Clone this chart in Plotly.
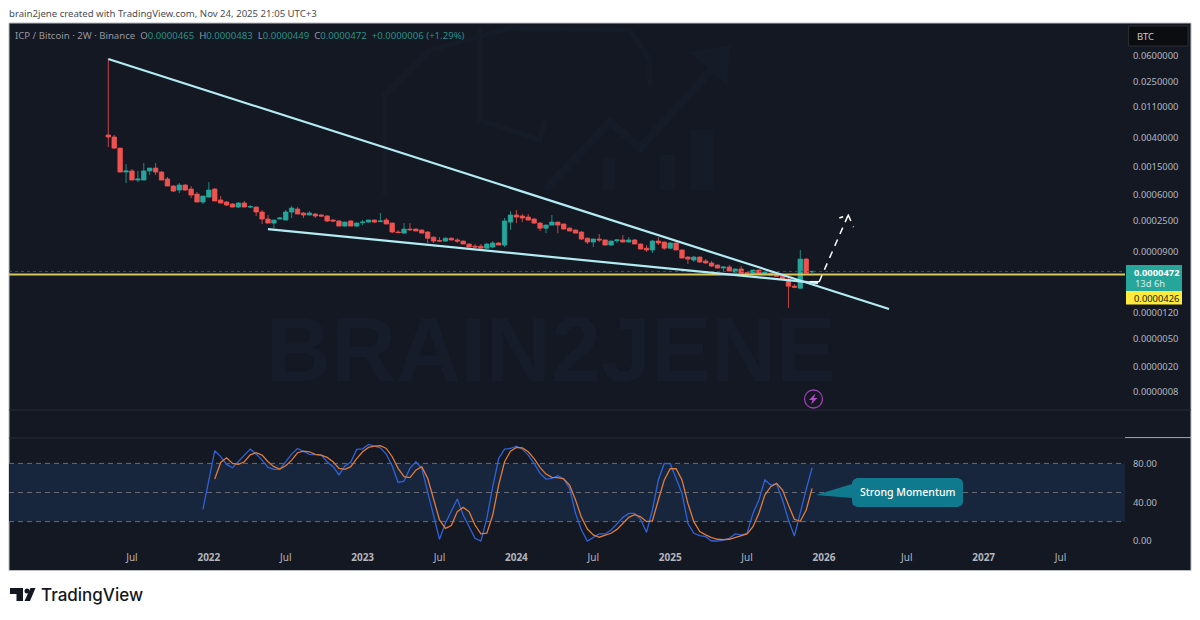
# ICP / Bitcoin 2W chart, TradingView look, with stoch RSI pane below
import plotly.graph_objects as go

# candles, prices in units of 1e-4 BTC, one row = 10 bars
opens_e4 = [
    43.4, 40.6, 28.1, 12.7, 13.2, 9.75, 9.75, 13.2, 14.5, 12.7,
    10.1, 7.99, 7.00, 8.26, 7.23, 6.12, 4.71, 5.54, 7.23, 5.03,
    4.71, 4.40, 3.98, 4.55, 3.98, 3.98, 3.38, 2.68, 2.34, 2.68,
    2.59, 3.38, 3.73, 3.27, 3.06, 3.16, 3.06, 2.96, 2.59, 2.51,
    2.12, 2.51, 2.12, 2.38, 2.42, 2.59, 2.46, 2.59, 2.34, 1.74,
    1.68, 1.92, 1.92, 1.86, 1.74, 1.47, 1.31, 1.29, 1.42, 1.34,
    1.29, 1.17, 1.09, 1.09, 1.02, 1.06, 1.21, 1.13, 2.42, 3.06,
    2.96, 2.86, 2.68, 2.34, 1.98, 2.19, 2.42, 2.27, 1.98, 1.86,
    1.74, 1.42, 1.25, 1.38, 1.34, 1.13, 1.31, 1.34, 1.25, 1.34,
    1.17, 1.02, 0.96, 1.29, 1.25, 1.02, 1.21, 0.96, 0.76, 0.689,
    0.76, 0.667, 0.624, 0.583, 0.528, 0.546, 0.462, 0.511, 0.452, 0.432,
    0.494, 0.432, 0.447, 0.418, 0.404, 0.366, 0.29, 0.271, 0.71, 0.465,
]
highs_e4 = [
    538, 43.4, 28.1, 16.5, 14.0, 13.2, 17.1, 14.5, 17.1, 13.2,
    10.8, 8.26, 8.82, 8.53, 7.99, 6.55, 5.73, 9.12, 7.47, 5.73,
    4.87, 4.55, 4.71, 4.87, 4.26, 4.05, 3.61, 3.06, 2.59, 2.86,
    3.61, 4.12, 3.98, 3.38, 3.49, 3.27, 3.16, 3.06, 2.68, 2.59,
    2.46, 2.59, 2.42, 2.59, 2.59, 2.63, 3.27, 2.77, 2.38, 1.86,
    2.34, 2.34, 1.95, 1.90, 1.80, 1.50, 1.47, 1.45, 1.45, 1.42,
    1.31, 1.19, 1.17, 1.17, 1.21, 1.29, 1.25, 2.77, 3.49, 3.61,
    3.16, 3.16, 2.77, 2.42, 2.23, 3.06, 2.46, 2.30, 2.05, 1.90,
    1.80, 1.45, 1.40, 1.63, 1.36, 1.31, 1.38, 1.57, 1.47, 1.38,
    1.19, 1.13, 1.34, 1.47, 1.27, 1.25, 1.23, 0.98, 0.78, 0.785,
    0.77, 0.71, 0.667, 0.593, 0.555, 0.583, 0.52, 0.564, 0.462, 0.50,
    0.50, 0.47, 0.452, 0.425, 0.41, 0.391, 0.31, 0.96, 0.735, 0.483,
]
lows_e4 = [
    29.1, 27.2, 12.7, 8.82, 9.75, 9.12, 9.75, 11.5, 11.5, 9.75,
    7.99, 6.55, 6.33, 6.77, 5.36, 4.71, 4.40, 5.54, 4.87, 4.55,
    4.12, 3.98, 3.85, 3.98, 3.85, 2.96, 2.27, 2.34, 1.98, 2.68,
    2.59, 2.77, 3.16, 2.77, 3.06, 2.77, 2.86, 2.42, 2.42, 2.12,
    2.08, 2.12, 2.05, 2.19, 2.38, 2.34, 2.42, 2.27, 1.68, 1.68,
    1.65, 1.80, 1.80, 1.68, 1.21, 1.21, 1.25, 1.27, 1.31, 1.21,
    1.17, 1.06, 1.02, 1.02, 1.00, 1.02, 1.13, 1.06, 1.86, 2.34,
    2.42, 2.55, 2.30, 1.80, 1.68, 2.19, 1.68, 1.92, 1.80, 1.68,
    1.34, 1.17, 1.06, 1.25, 1.13, 1.11, 1.21, 1.23, 1.23, 1.17,
    0.99, 0.90, 0.87, 1.13, 0.96, 1.00, 0.96, 0.735, 0.603, 0.645,
    0.624, 0.61, 0.546, 0.52, 0.478, 0.478, 0.455, 0.447, 0.432, 0.43,
    0.432, 0.428, 0.418, 0.40, 0.36, 0.141, 0.271, 0.265, 0.447, 0.449,
]
closes_e4 = [
    40.6, 28.1, 12.7, 13.2, 9.75, 10.1, 13.2, 14.5, 12.7, 9.75,
    7.99, 6.77, 8.26, 7.00, 5.93, 4.71, 5.73, 7.00, 4.87, 4.55,
    4.26, 3.98, 4.55, 3.98, 4.05, 3.38, 2.68, 2.34, 2.59, 2.77,
    3.38, 3.85, 3.16, 3.06, 3.27, 2.96, 2.96, 2.51, 2.51, 2.12,
    2.42, 2.12, 2.34, 2.42, 2.59, 2.42, 2.51, 2.27, 1.74, 1.71,
    1.92, 1.88, 1.80, 1.68, 1.42, 1.29, 1.29, 1.42, 1.34, 1.29,
    1.17, 1.06, 1.06, 1.02, 1.17, 1.21, 1.13, 2.51, 3.06, 2.86,
    2.77, 2.59, 2.34, 1.98, 2.19, 2.42, 2.19, 1.92, 1.80, 1.68,
    1.38, 1.25, 1.38, 1.34, 1.13, 1.29, 1.34, 1.25, 1.34, 1.17,
    0.99, 0.96, 1.29, 1.21, 1.02, 1.21, 0.96, 0.735, 0.71, 0.76,
    0.645, 0.624, 0.564, 0.528, 0.546, 0.478, 0.511, 0.447, 0.447, 0.494,
    0.432, 0.462, 0.418, 0.404, 0.366, 0.29, 0.28, 0.71, 0.447, 0.472,
]
bar_index = list(range(len(opens_e4)))

# stoch RSI, the %K line starts at bar 16 and the %D line at bar 18
k_start = 16
stoch_k = [
    32.7, 63, 93, 87, 79, 75.5, 81.7, 87.5, 94.7, 89.6,
    83.4, 75.9, 73.8, 73.8, 81.7, 89.6, 95.4, 92, 89.3, 89,
    88.6, 81.7, 76.6, 68.3, 77.3, 81.4, 94.4, 95, 99.6, 97.8,
    96, 89.6, 77.3, 60.4, 61.8, 74.9, 81.7, 74.9, 50.8, 25,
    1.8, 18.3, 30.3, 43.3, 26.8, 14.8, 2.8, 0, 23.4, 56,
    85, 94.7, 95.4, 97.8, 94.7, 88.6, 80, 69.7, 63.9, 64.6,
    67.3, 63.9, 54.3, 28.5, 11.4, 0, 3.9, 7.3, 7.3, 11.4,
    17.6, 24.4, 28.5, 28.5, 22.4, 9, 32, 62.9, 80, 79.7,
    64.6, 49, 18.3, 8, 5.6, 4.5, 0, 0, 1, 2.8,
    7.3, 6.3, 8, 28.5, 42.3, 62.9, 57.7, 58.7, 42.3, 21.7,
    5.2, 30.3, 53.2, 75.5,
]
d_start = 18
stoch_d = [
    63.9, 81, 85.8, 80, 79, 81.7, 88.9, 91, 88.6, 81.7,
    76.6, 74.2, 77.6, 83.4, 91, 92.7, 92, 89.3, 88.6, 86.2,
    81.7, 74.9, 73.8, 76.6, 85, 92, 96.5, 97.8, 98.2, 95.4,
    86.9, 74.9, 66.3, 65.3, 73, 76.6, 64.6, 42.3, 21.7, 13.1,
    15.9, 30.3, 34.7, 30.3, 16.5, 7.3, 8, 26.8, 57.7, 81.7,
    92.7, 96.5, 96, 92, 85, 75.9, 69, 65.6, 65.3, 64.2,
    57.7, 42.3, 24.4, 12.4, 6.3, 3.9, 5.6, 8, 12, 18.3,
    24.4, 27.2, 25, 20, 20.7, 42.3, 62.9, 74.5, 74.5, 62.9,
    38.8, 20, 9.7, 6.3, 3.5, 1.8, 1.4, 1.8, 3.9, 5.2,
    7.3, 14.8, 28.5, 47.4, 56, 59.4, 52.6, 37, 22.4, 20.3,
    32, 54.3,
]
rsi_levels = [80, 50, 20]

# drawings on the chart, as (bar, price)
upper_trend_x = [0, 132]
upper_trend_y = [0.0538, 0.0000136]
lower_trend_x = [27, 120]
lower_trend_y = [0.000192, 0.000032]
hook_x = [118.6, 120.2]
hook_y = [0.0000336, 0.0000336]
arrow_x = [120.2, 125.1, 123.6, 125.1, 126]
arrow_y = [0.0000336, 0.000306, 0.000277, 0.000306, 0.000205]
support_price = 0.0000426
last_price = 0.0000472

# axis ticks
y_tick_vals = [0.06, 0.025, 0.011, 0.004, 0.0015, 0.0006, 0.00025, 0.00009,
               0.000012, 0.000005, 0.000002, 0.00000088]
y_tick_text = ["0.0600000", "0.0250000", "0.0110000", "0.0040000", "0.0015000", "0.0006000",
               "0.0002500", "0.0000900", "0.0000120", "0.0000050", "0.0000020", "0.0000008"]
x_tick_vals = [4, 17, 30, 43, 56, 69, 82, 95, 108, 121, 135, 148, 161]
x_tick_text = ["Jul", "<b>2022</b>", "Jul", "<b>2023</b>", "Jul", "<b>2024</b>", "Jul", "<b>2025</b>",
               "Jul", "<b>2026</b>", "Jul", "<b>2027</b>", "Jul"]
rsi_tick_vals = [80, 40, 0]
rsi_tick_text = ["80.00", "40.00", "0.00"]
x_range = [-16.79, 171.9]
y_range = [-6.320, -0.751]
rsi_range = [-7.2, 106.2]

W, H = 1200, 620
BG = "#141823"
UP = "#26a69a"
DOWN = "#ef5350"
TREND = "#b2ebf2"
FONT = "Noto Sans"
FAINT = "#161c27"


# page pixels to paper coordinates, used only for the chrome around the chart
def px(x):
    return x / W


def py(y):
    return 1 - y / H


def path(points, close=True):
    s = "M" + " L".join(f"{px(x):.5f},{py(y):.5f}" for x, y in points)
    return s + (" Z" if close else "")


fig = go.Figure()

fig.add_trace(go.Scatter(x=x_range, y=[support_price, support_price], mode="lines",
                         line=dict(color="#d6c75c", width=2), hoverinfo="skip"))
fig.add_trace(go.Scatter(x=x_range, y=[last_price, last_price], mode="lines",
                         line=dict(color="#1b5f5c", width=1, dash="dot"), hoverinfo="skip"))

fig.add_trace(go.Candlestick(
    x=bar_index,
    open=[v * 1e-4 for v in opens_e4],
    high=[v * 1e-4 for v in highs_e4],
    low=[v * 1e-4 for v in lows_e4],
    close=[v * 1e-4 for v in closes_e4],
    increasing=dict(line=dict(color=UP, width=0.8), fillcolor=UP),
    decreasing=dict(line=dict(color=DOWN, width=0.8), fillcolor=DOWN),
    whiskerwidth=0,
))

fig.add_trace(go.Scatter(x=upper_trend_x, y=upper_trend_y, mode="lines", line=dict(color=TREND, width=2.2)))
fig.add_trace(go.Scatter(x=lower_trend_x, y=lower_trend_y, mode="lines", line=dict(color=TREND, width=2.2)))
fig.add_trace(go.Scatter(x=hook_x, y=hook_y, mode="lines", line=dict(color="#ffffff", width=1.5)))
fig.add_trace(go.Scatter(x=arrow_x, y=arrow_y, mode="lines",
                         line=dict(color="#ffffff", width=1.5, dash="7px,6px")))

# RSI pane
fig.add_trace(go.Scatter(x=list(range(k_start, k_start + len(stoch_k))), y=stoch_k, mode="lines",
                         line=dict(color="#2f62d6", width=1.3), xaxis="x2", yaxis="y2"))
fig.add_trace(go.Scatter(x=list(range(d_start, d_start + len(stoch_d))), y=stoch_d, mode="lines",
                         line=dict(color="#e07b39", width=1.3), xaxis="x2", yaxis="y2"))

shapes = [
    # chart panel
    dict(type="rect", xref="paper", yref="paper", x0=px(9), x1=px(1191), y0=py(570.5), y1=py(23),
         fillcolor=BG, line=dict(color="#b9bcc4", width=1), layer="below"),
    # RSI band
    dict(type="rect", xref="x2 domain", yref="y2", x0=0, x1=1, y0=rsi_levels[2], y1=rsi_levels[0],
         fillcolor="#18263d", line=dict(width=0), layer="below"),
    # pane separators
    dict(type="line", xref="paper", yref="paper", x0=px(9), x1=px(1191), y0=py(410), y1=py(410),
         line=dict(color="#262b37", width=1), layer="below"),
    dict(type="line", xref="paper", yref="paper", x0=px(9), x1=px(1125), y0=py(438), y1=py(438),
         line=dict(color="#262b37", width=1), layer="below"),
    dict(type="line", xref="paper", yref="paper", x0=px(1125), x1=px(1191), y0=py(437.6), y1=py(437.6),
         line=dict(color="#a6a8ad", width=1), layer="below"),
    # BTC box
    dict(type="rect", xref="paper", yref="paper", x0=px(1128.5), x1=px(1188), y0=py(46), y1=py(26),
         fillcolor="#0c0d10", line=dict(color="#2a2c32", width=1), layer="below"),
    # last price and support labels
    dict(type="rect", xref="paper", yref="paper", x0=px(1126), x1=px(1182), y0=py(291), y1=py(265),
         fillcolor="#26a69a", line=dict(width=0)),
    dict(type="rect", xref="paper", yref="paper", x0=px(1126), x1=px(1182), y0=py(304.5), y1=py(291),
         fillcolor="#ffeb3b", line=dict(width=0)),
    # callout
    dict(type="path", xref="paper", yref="paper", fillcolor="#0f7a8e", line=dict(width=0),
         path=path([(816, 495), (852, 484), (852, 483), (853, 480), (857, 478), (958, 478), (962, 480), (963, 483),
                    (963, 502), (962, 505), (958, 507), (857, 507), (853, 505), (852, 502), (852, 498)])),
    # lightning icon
    dict(type="circle", xref="paper", yref="paper", x0=px(804.5), x1=px(822.5), y0=py(408), y1=py(390),
         line=dict(color="#9c3fb0", width=1.3)),
    dict(type="path", xref="paper", yref="paper", fillcolor="#b24bc8", line=dict(width=0),
         path=path([(815.5, 393.5), (809, 400), (812.5, 400), (811, 404.5), (817.5, 398), (814, 398)])),
    # TradingView logo
    dict(type="path", xref="paper", yref="paper", fillcolor="#131722", line=dict(width=0),
         path=path([(10, 588), (23, 588), (23, 601), (16.5, 601), (16.5, 594), (10, 594)])),
    dict(type="circle", xref="paper", yref="paper", x0=px(24.5), x1=px(29.5), y0=py(593.5), y1=py(588.5),
         fillcolor="#131722", line=dict(width=0)),
    dict(type="path", xref="paper", yref="paper", fillcolor="#131722", line=dict(width=0),
         path=path([(30.5, 588), (35.5, 588), (30, 601), (24.5, 601)])),
    # faint logo watermark, brain outline, arrow and candles
    dict(type="path", xref="paper", yref="paper", line=dict(color=FAINT, width=5), layer="below",
         path=path([(385, 195), (385, 95), (430, 50), (510, 28), (630, 30), (650, 60), (650, 85)], close=False)),
    dict(type="path", xref="paper", yref="paper", line=dict(color=FAINT, width=5), layer="below",
         path=path([(480, 28), (480, 120), (540, 140), (545, 120)], close=False)),
    dict(type="path", xref="paper", yref="paper", line=dict(color=FAINT, width=8), layer="below",
         path=path([(545, 190), (610, 122), (640, 148), (725, 55)], close=False)),
    dict(type="path", xref="paper", yref="paper", fillcolor=FAINT, line=dict(width=0), layer="below",
         path=path([(690, 52), (730, 45), (727, 85)])),
    dict(type="rect", xref="paper", yref="paper", x0=px(690), x1=px(713), y0=py(190), y1=py(130),
         fillcolor=FAINT, line=dict(width=0), layer="below"),
    dict(type="rect", xref="paper", yref="paper", x0=px(660), x1=px(675), y0=py(190), y1=py(155),
         fillcolor=FAINT, line=dict(width=0), layer="below"),
    dict(type="rect", xref="paper", yref="paper", x0=px(603), x1=px(615), y0=py(190), y1=py(158),
         fillcolor=FAINT, line=dict(width=0), layer="below"),
]
for level in rsi_levels:
    shapes.append(dict(type="line", xref="x2 domain", yref="y2", x0=0, x1=1, y0=level, y1=level,
                       line=dict(color="#676b75", width=1, dash="5px,4px"), layer="below"))


def label(text, x, y, size=10, color="#b2b5bc", anchor="left", family=FONT, **font_args):
    return dict(text=text, xref="paper", yref="paper", x=px(x), y=py(y), xanchor=anchor, yanchor="middle",
                showarrow=False, align=anchor, font=dict(family=family, size=size, color=color, **font_args))


teal = "color:#2a8f86"
legend_text = (f'ICP / Bitcoin · 2W · Binance  O<span style="{teal}">0.0000465</span>  '
               f'H<span style="{teal}">0.0000483</span>  L<span style="{teal}">0.0000449</span>  '
               f'C<span style="{teal}">0.0000472</span>  <span style="{teal}">+0.0000006 (+1.29%)</span>')

annotations = [
    label("brain2jene created with TradingView.com, Nov 24, 2025 21:05 UTC+3", 7, 13, size=9.6, color="#4a4d55"),
    label(legend_text, 13, 35.5, size=9.6, color="#94979f"),
    label("BTC", 1135, 36, size=9.4, color="#c8cad0"),
    label("<b>0.0000472</b>", 1132, 272, size=9.4, color="#ffffff"),
    label("13d 6h", 1132.5, 284, size=9.4, color="#d5efec"),
    label("0.0000426", 1132, 298, size=9.4, color="#1a1a10"),
    label("Strong Momentum", 907, 491.5, size=10.5, color="#ffffff", anchor="center", weight=500),
    label("TradingView", 38.5, 594.5, size=17, color="#131722", family="Inter", weight=500),
    label("BRAIN2JENE", 551, 350, size=90, color="#161c29", anchor="center", family="Liberation Sans", weight=700),
]

fig.update_layout(
    width=W,
    height=H,
    margin=dict(l=0, r=0, t=0, b=0),
    paper_bgcolor="#ffffff",
    plot_bgcolor="rgba(0,0,0,0)",
    showlegend=False,
    hovermode=False,
    boxgap=0.25,
    boxgroupgap=0,
    font=dict(family=FONT, size=9.4, color="#b2b5bc"),
    shapes=shapes,
    annotations=annotations,
    xaxis=dict(domain=[px(9), px(1125)], range=x_range, visible=False, rangeslider=dict(visible=False),
               anchor="y"),
    yaxis=dict(domain=[py(410), py(23)], type="log", range=y_range, side="right", anchor="x", showgrid=False,
               zeroline=False, showline=False, tickmode="array", tickvals=y_tick_vals, ticktext=y_tick_text,
               ticks="", ticklabelstandoff=7, tickfont=dict(size=9.4, color="#b2b5bc")),
    xaxis2=dict(domain=[px(9), px(1125)], range=x_range, anchor="y2", showgrid=False, zeroline=False,
                showline=False, tickmode="array", tickvals=x_tick_vals, ticktext=x_tick_text, ticks="",
                ticklabelstandoff=2, tickangle=0, tickfont=dict(size=10, color="#b2b5bc")),
    yaxis2=dict(domain=[py(548), py(438)], range=rsi_range, side="right", anchor="x2", showgrid=False,
                zeroline=False, showline=False, tickmode="array", tickvals=rsi_tick_vals, ticktext=rsi_tick_text,
                ticks="", ticklabelstandoff=7, tickfont=dict(size=9.4, color="#b2b5bc")),
)

# the browser's default body margin would push the chart 8px off the page
fig.write_html("out.html", config=dict(displayModeBar=False),
               post_script="document.body.style.margin='0'")
